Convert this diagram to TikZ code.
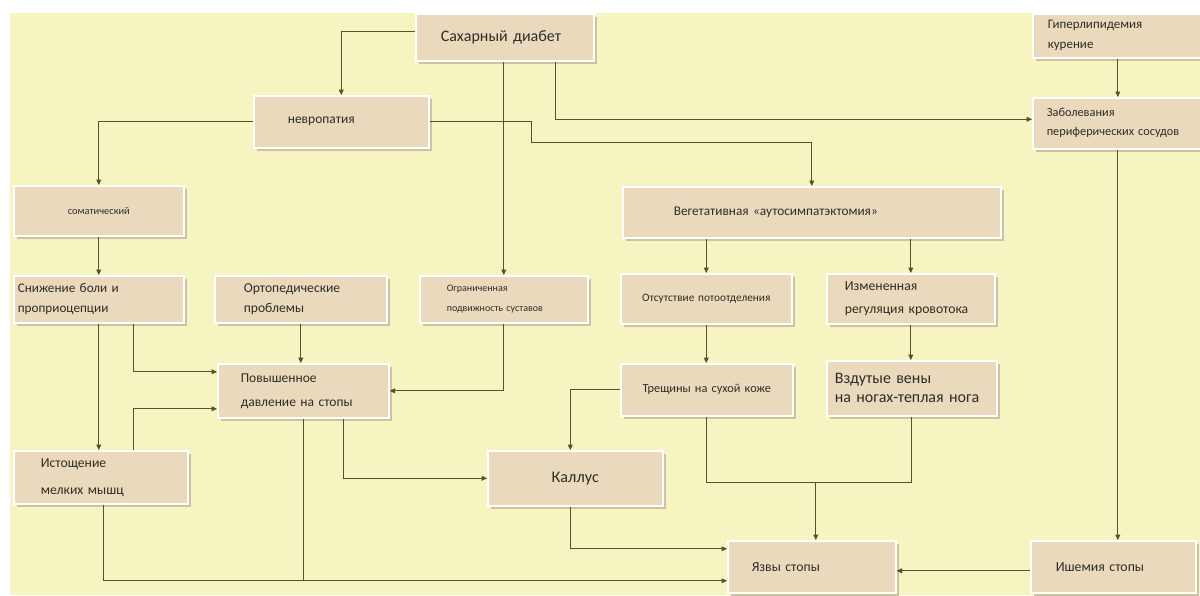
\documentclass[tikz,border=0pt]{standalone}
\usepackage{fontspec}
\setmainfont{Carlito}
\usetikzlibrary{arrows.meta,shadows}
\definecolor{bgyel}{HTML}{F6F4C1}
\definecolor{boxc}{HTML}{EAD9BD}
\definecolor{shadc}{HTML}{CBC49E}
\definecolor{linec}{HTML}{55532D}
\definecolor{txtc}{HTML}{2F2D26}
\tikzset{
  blk/.style={draw=white, line width=1.6pt, fill=boxc, anchor=north west, align=left,
    inner ysep=0pt, text=txtc,
    drop shadow={shadow xshift=3pt, shadow yshift=-3pt, fill=shadc, opacity=1}},
  con/.style={draw=linec, line width=1.1pt},
  arr/.style={con, -{Triangle[width=5pt,length=5.5pt]}},
  fz/.style 2 args={font=\fontsize{#1}{#2}\selectfont},
}
\begin{document}
\begin{tikzpicture}[x=1pt,y=-1pt]
\useasboundingbox (0,0) rectangle (1200,595);
\fill[bgyel] (10,13) rectangle (1200,595);

% boxes
\node[blk, fz={16}{19}, text width=128pt, inner xsep=25pt, minimum height=47pt] (sd) at (415,13) {Сахарный диабет};
\node[blk, fz={13.5}{16}, text width=107pt, inner xsep=34pt, minimum height=52pt] (nevr) at (253,95) {невропатия};
\node[blk, fz={13}{20}, text width=140pt, inner xsep=15pt, minimum height=44pt] (giper) at (1032,13) {Гиперлипидемия\\курение};
\node[blk, fz={12.3}{19}, text width=142pt, inner xsep=14pt, minimum height=51pt] (zabol) at (1032,97) {Заболевания\\периферических сосудов};
\node[blk, fz={10.4}{13}, align=center, text width=158pt, inner xsep=6pt, minimum height=50pt] (soma) at (13,185) {соматический};
\node[blk, fz={13.3}{16}, text width=276pt, inner xsep=51pt, minimum height=51pt] (veg) at (622,186) {Вегетативная «аутосимпатэктомия»};
\node[blk, fz={13.2}{20}, text width=162pt, inner xsep=4pt, minimum height=47pt] (snizh) at (13,275) {Снижение боли и\\проприоцепции};
\node[blk, fz={13.6}{20}, text width=114pt, inner xsep=29pt, minimum height=47pt] (orto) at (214,275) {Ортопедические\\проблемы};
\node[blk, fz={10}{20}, text width=114pt, inner xsep=27pt, minimum height=47pt] (ogr) at (419,275) {Ограниченная\\подвижность суставов};
\node[blk, fz={11.3}{14}, align=center, text width=159pt, inner xsep=6pt, minimum height=50pt] (ots) at (620,273) {Отсутствие потоотделения};
\node[blk, fz={13.7}{23}, text width=132pt, inner xsep=18pt, minimum height=50pt] (izm) at (826,273) {Измененная\\регуляция кровотока};
\node[blk, fz={13.5}{24}, text width=125pt, inner xsep=23pt, minimum height=54pt] (pov) at (217,363) {Повышенное\\давление на стопы};
\node[blk, fz={12.3}{15}, align=center, text width=160pt, inner xsep=6pt, minimum height=52pt] (tresh) at (620,363) {Трещины на сухой коже};
\node[blk, fz={16}{19}, text width=154pt, inner xsep=8pt, minimum height=55pt] (vzd) at (826,360) {Вздутые вены\\на ногах-теплая нога};
\node[blk, fz={13.7}{27}, text width=120pt, inner xsep=27pt, minimum height=53pt] (istosh) at (13,450) {Истощение\\мелких мышц};
\node[blk, fz={16.2}{19}, align=center, text width=163pt, inner xsep=6pt, minimum height=55pt] (kall) at (487,450) {Каллус};
\node[blk, fz={13.7}{16}, text width=120pt, inner xsep=24pt, minimum height=52pt] (yazv) at (727,540) {Язвы стопы};
\node[blk, fz={13.8}{16}, text width=115pt, inner xsep=25pt, minimum height=52pt] (ishem) at (1030,540) {Ишемия стопы};

% connectors
\draw[arr] ([yshift=6pt]sd.west) -| (nevr.north);
\draw[arr] (sd.south -| ogr.north) -- (ogr.north);
\draw[arr] ([xshift=51pt]sd.south) |- ([yshift=4pt]zabol.west);
\draw[arr] (nevr.east) -- ++(102,0) -- ++(0,21) -| (veg.north);
\draw[arr] (nevr.west) -| (soma.north);
\draw[arr] (soma.south) -- (snizh.north);
\draw[arr] (snizh.south) -- (snizh.south |- istosh.north);
\draw[arr] ([xshift=35pt]snizh.south) |- ([yshift=19pt]pov.west);
\draw[arr] ([xshift=33pt]istosh.north) |- ([yshift=-18pt]pov.west);
\draw[arr] (orto.south) -- (orto.south |- pov.north);
\draw[arr] (ogr.south) |- (pov.east);
\draw[arr] ([xshift=40pt]pov.south) |- (kall.west);
\coordinate (bot) at ([yshift=-14pt]yazv.west);
\draw[con] (pov.south) -- (pov.south |- bot);
\draw[arr] ([xshift=3pt]istosh.south) |- (bot);
\draw[arr] ([xshift=-5pt]kall.south) |- ([yshift=18pt]yazv.west);
\draw[arr] (tresh.west) -| ([xshift=-5pt]kall.north);
\draw[arr] (veg.south -| ots.north) -- (ots.north);
\draw[arr] (veg.south -| izm.north) -- (izm.north);
\draw[arr] (ots.south) -- (ots.south |- tresh.north);
\draw[arr] (izm.south) -- (izm.south |- vzd.north);
\draw[con] (tresh.south) -- ++(0,66) coordinate (mrg) -| (vzd.south);
\draw[arr] ([xshift=4pt]mrg -| yazv.north) -- ([xshift=4pt]yazv.north);
\draw[arr] (giper.south) -- (zabol.north);
\draw[arr] (zabol.south) -- (zabol.south |- ishem.north);
\draw[arr] ([yshift=-4pt]ishem.west) -- ([yshift=-4pt]ishem.west -| yazv.east);
\end{tikzpicture}
\end{document}
